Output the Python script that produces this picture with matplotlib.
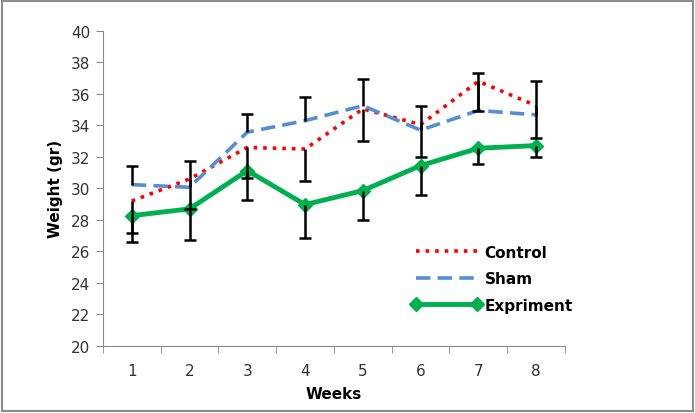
import numpy as np
import matplotlib.pyplot as plt
from matplotlib.patches import Rectangle

# 数据
weeks = [1, 2, 3, 4, 5, 6, 7, 8]
control = [29.2, 30.6, 32.6, 32.5, 35.05, 34.05, 36.8, 35.25]
sham = [30.24, 30.07, 33.57, 34.3, 35.25, 33.7, 34.95, 34.67]
expriment = [28.27, 28.7, 31.13, 28.97, 29.86, 31.45, 32.55, 32.72]

# 误差棒：Sham 只有上方，Control 和 Expriment 只有下方
sham_err_up = [1.16, 1.66, 1.16, 1.53, 1.7, 1.52, 2.35, 2.16]
control_err_down = [2.0, 1.9, 1.95, 2.05, 2.05, 2.03, 1.9, 2.07]
exp_err_down = [1.7, 1.95, 1.84, 2.1, 1.86, 1.9, 1.0, 0.7]

fig = plt.figure(figsize=(6.95, 4.14), dpi=100)
ax = fig.add_axes([0.148, 0.162, 0.665, 0.761])

ax.plot(weeks, control, color='#FF0000', linestyle=':', linewidth=2.6, label='Control')
ax.plot(weeks, sham, color='#558ED5', linestyle=(0, (4, 2)), linewidth=2.6, label='Sham')
ax.plot(weeks, expriment, color='#00B050', linestyle='-', linewidth=3.5, marker='D',
        markersize=7, label='Expriment')


def one_side_err(y, err, up):
    zeros = [0] * len(y)
    yerr = [zeros, err] if up else [err, zeros]
    _, caps, _ = ax.errorbar(weeks, y, yerr=yerr, fmt='none', ecolor='black',
                             elinewidth=1.8, capsize=4.5, capthick=1.8, zorder=3)
    # 去掉数据点一侧的横线
    caps[0 if up else 1].set_visible(False)


one_side_err(control, control_err_down, up=False)
one_side_err(sham, sham_err_up, up=True)
one_side_err(expriment, exp_err_down, up=False)

ax.set_xlim(0.5, 8.5)
ax.set_ylim(20, 40)
ax.set_yticks(np.arange(20, 41, 2))
ax.set_xticks(weeks)
ax.set_xticks(np.arange(0.5, 9, 1), minor=True)
ax.tick_params(axis='x', which='major', length=0, pad=12, labelsize=11, labelcolor='#333333')
ax.tick_params(axis='x', which='minor', length=5, color='#888888', direction='out')
ax.tick_params(axis='y', length=5, color='#888888', labelsize=11, labelcolor='#333333', pad=4)

for s in ['top', 'right']:
    ax.spines[s].set_visible(False)
for s in ['left', 'bottom']:
    ax.spines[s].set_color('#888888')

ax.set_xlabel('Weeks', fontsize=11, fontweight='bold', labelpad=6)
ax.set_ylabel('Weight (gr)', fontsize=11, fontweight='bold', labelpad=6)

leg = fig.legend(loc='upper left', bbox_to_anchor=(0.572, 0.44), frameon=False,
                 numpoints=2, handlelength=4.6, handletextpad=0.2, labelspacing=0.75,
                 prop={'size': 11, 'weight': 'bold'})

# 外框
fig.patches.append(Rectangle((0.003, 0.004), 0.994, 0.992, transform=fig.transFigure,
                             fill=False, edgecolor='#8c8c8c', linewidth=1.5))

fig.savefig('out.png', dpi=100)
